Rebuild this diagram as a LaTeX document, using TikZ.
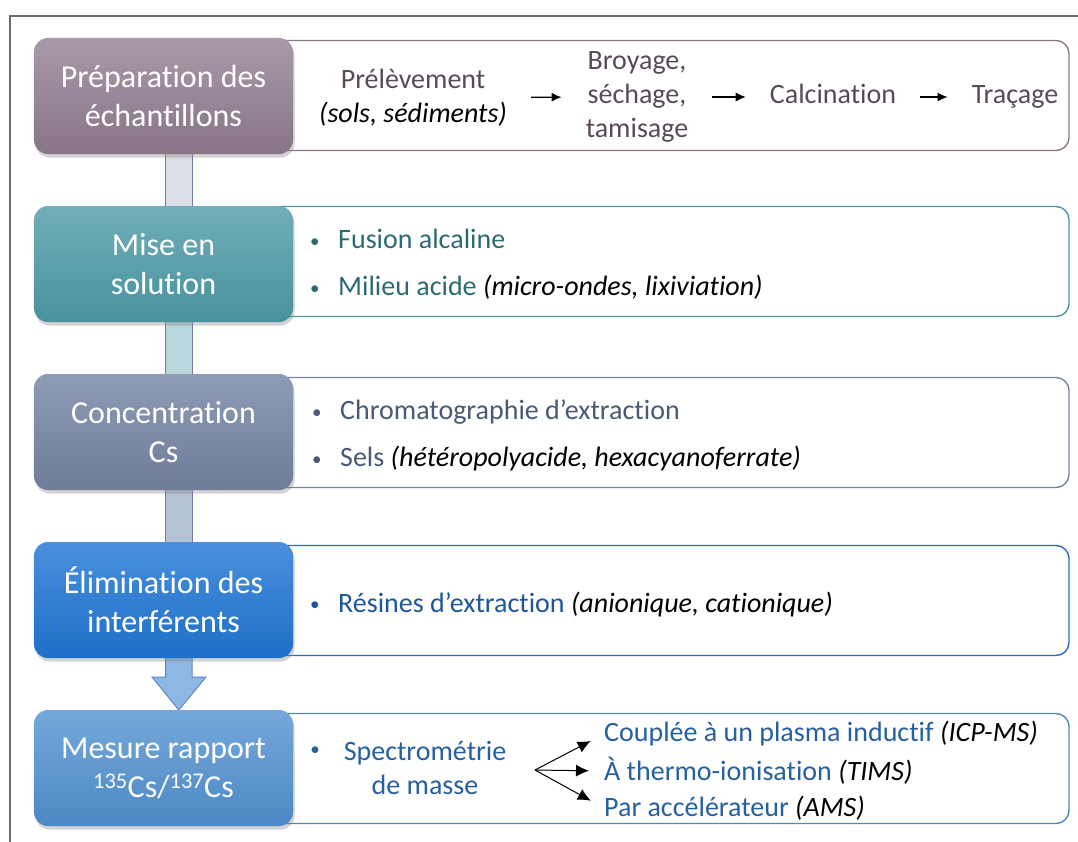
\documentclass[tikz,border=0pt]{standalone}
\usepackage{fontspec}
\setmainfont{Carlito}[Ligatures=NoCommon]
\usetikzlibrary{arrows.meta,calc,shadows}

% box colours (top / bottom), panel borders and panel text
\definecolor{mauvetop}{RGB}{168,153,168}
\definecolor{mauvebot}{RGB}{136,117,136}
\definecolor{mauveline}{RGB}{140,122,140}
\definecolor{mauvetxt}{RGB}{88,74,88}
\definecolor{tealtop}{RGB}{112,174,184}
\definecolor{tealbot}{RGB}{72,146,158}
\definecolor{tealline}{RGB}{78,152,163}
\definecolor{tealtxt}{RGB}{45,106,115}
\definecolor{slatetop}{RGB}{142,155,180}
\definecolor{slatebot}{RGB}{110,124,152}
\definecolor{slateline}{RGB}{118,132,158}
\definecolor{slatetxt}{RGB}{74,89,118}
\definecolor{bluetop}{RGB}{74,143,221}
\definecolor{bluebot}{RGB}{30,111,200}
\definecolor{blueline}{RGB}{40,110,190}
\definecolor{bluetxt}{RGB}{29,86,154}
\definecolor{skytop}{RGB}{116,168,218}
\definecolor{skybot}{RGB}{77,136,196}
\definecolor{skyline}{RGB}{79,135,192}
\definecolor{skytxt}{RGB}{38,96,159}
\definecolor{barline}{RGB}{112,124,165}
\definecolor{barone}{RGB}{220,223,229}
\definecolor{bartwo}{RGB}{184,214,219}
\definecolor{barthree}{RGB}{181,195,214}
\definecolor{barfour}{RGB}{141,184,230}
\definecolor{barfourline}{RGB}{94,136,192}
\definecolor{framegray}{RGB}{110,110,110}

\newcommand{\dotmark}{{\fontsize{19bp}{19bp}\selectfont\textbullet}}
\newcommand{\itm}{\makebox[28bp][l]{\raisebox{1.5bp}{\dotmark}}}
\newcommand{\note}[1]{\textit{\color{black}#1}}

\tikzset{
  stage/.style={rounded corners=14bp, minimum width=259bp, minimum height=116bp,
    top color=#1top, bottom color=#1bot, text=white, align=center, inner sep=0pt,
    font=\fontsize{32bp}{39bp}\selectfont,
    drop shadow={shadow xshift=1.5bp, shadow yshift=-3.5bp, opacity=.35}},
  panel/.style={draw=#1line, line width=1.4bp, fill=white, rounded corners=13bp,
    minimum width=799bp, minimum height=110bp},
  item/.style={text=#1txt, align=left, inner sep=0pt,
    font=\fontsize{28bp}{47bp}\selectfont},
  word/.style={text=#1txt, align=center, inner sep=0pt,
    font=\fontsize{28bp}{34bp}\selectfont},
  flow/.style={-{Latex[length=10bp,width=9bp]}, line width=1.2bp,
    shorten <=24bp, shorten >=24bp},
  fan/.style={-{Latex[length=13bp,width=12bp]}, line width=1bp, shorten >=15bp}
}

\begin{document}
\begin{tikzpicture}[x=1bp,y=-1bp]
  \useasboundingbox (0,0) rectangle (1078,842);

  % frame
  \draw[framegray, line width=1.5bp] (10,842) -- (10,16) -- (1078,16);

  % right-hand panels
  \node[panel=mauve] (q1) at (669.5,95.5) {};
  \node[panel=teal]  (q2) at (669.5,261.5) {};
  \node[panel=slate] (q3) at (669.5,432.5) {};
  \node[panel=blue]  (q4) at (669.5,600.5) {};
  \node[panel=sky]   (q5) at (669.5,768.5) {};

  % left-hand stages (placed first as coordinates for the bars)
  \coordinate (s1) at (163.5,96);
  \coordinate (s2) at (163.5,264);
  \coordinate (s3) at (163.5,432);
  \coordinate (s4) at (163.5,600);
  \coordinate (s5) at (163.5,768);

  % bars between stages
  \draw[barline, fill=barone, line width=1bp]
    ($(s1)+(2,50)$) rectangle ($(s2)+(28.5,-50)$);
  \draw[barline, fill=bartwo, line width=1bp]
    ($(s2)+(2,50)$) rectangle ($(s3)+(28.5,-50)$);
  \draw[barline, fill=barthree, line width=1bp]
    ($(s3)+(2,50)$) rectangle ($(s4)+(28.5,-50)$);
  \draw[barfourline, fill=barfour, line width=1bp]
    ($(s4)+(2,50)$) -- ($(s5)+(2,-91)$) -- ($(s5)+(-11.5,-91)$)
    -- ($(s5)+(15.3,-58)$) -- ($(s5)+(42.5,-91)$) -- ($(s5)+(28.5,-91)$)
    -- ($(s4)+(28.5,50)$) -- cycle;

  \node[stage=mauve] (b1) at (s1) {Préparation des\\échantillons};
  \node[stage=teal]  (b2) at (s2) {Mise en\\solution};
  \node[stage=slate] (b3) at (s3) {Concentration\\Cs};
  \node[stage=blue]  (b4) at (s4) {Élimination des\\interférents};
  \node[stage=sky]   (b5) at (s5) {Mesure rapport\\\textsuperscript{135}Cs/\textsuperscript{137}Cs};

  % preparation steps
  \node[word=mauve] (pre) at (413,97.5) {Prélèvement\\\note{(sols, sédiments)}};
  \node[word=mauve] (broy) at (637,97) {Broyage,\\séchage,\\tamisage};
  \node[word=mauve, text height=19bp, text depth=6bp] (calci) at (833,97) {Calcination};
  \node[word=mauve, text height=19bp, text depth=6bp] (trac) at (1015,97) {Traçage};
  \draw[flow] (pre) -- (broy);
  \draw[flow] (broy) -- (calci);
  \draw[flow] (calci) -- (trac);

  % bullet lists
  \node[item=teal, anchor=west] (m1) at (310,264.5)
    {\itm Fusion alcaline\\\itm Milieu acide \note{(micro-ondes, lixiviation)}};
  \node[item=slate, anchor=west] (m2) at (312,435.5)
    {\itm Chromatographie d’extraction\\\itm Sels \note{(hétéropolyacide, hexacyanoferrate)}};
  \node[item=blue, anchor=west] (m3) at (310,604.5)
    {\itm Résines d’extraction \note{(anionique, cationique)}};

  % mass spectrometry
  \node[text=skytxt, inner sep=0pt] (dot) at (315,751) {\dotmark};
  \node[word=sky] (spec) at (425,767.5) {Spectrométrie\\de masse};
  \coordinate (split) at (535,770);
  \node[word=sky, anchor=west] (icp) at (604,734) {Couplée à un plasma inductif \note{(ICP-MS)}};
  \node[word=sky, anchor=west] (tims) at (604,771) {À thermo-ionisation \note{(TIMS)}};
  \node[word=sky, anchor=west] (ams) at (604,808) {Par accélérateur \note{(AMS)}};
  \draw[fan] (split) -- (icp.west);
  \draw[fan] (split) -- (tims.west);
  \draw[fan] (split) -- (ams.west);
\end{tikzpicture}
\end{document}
